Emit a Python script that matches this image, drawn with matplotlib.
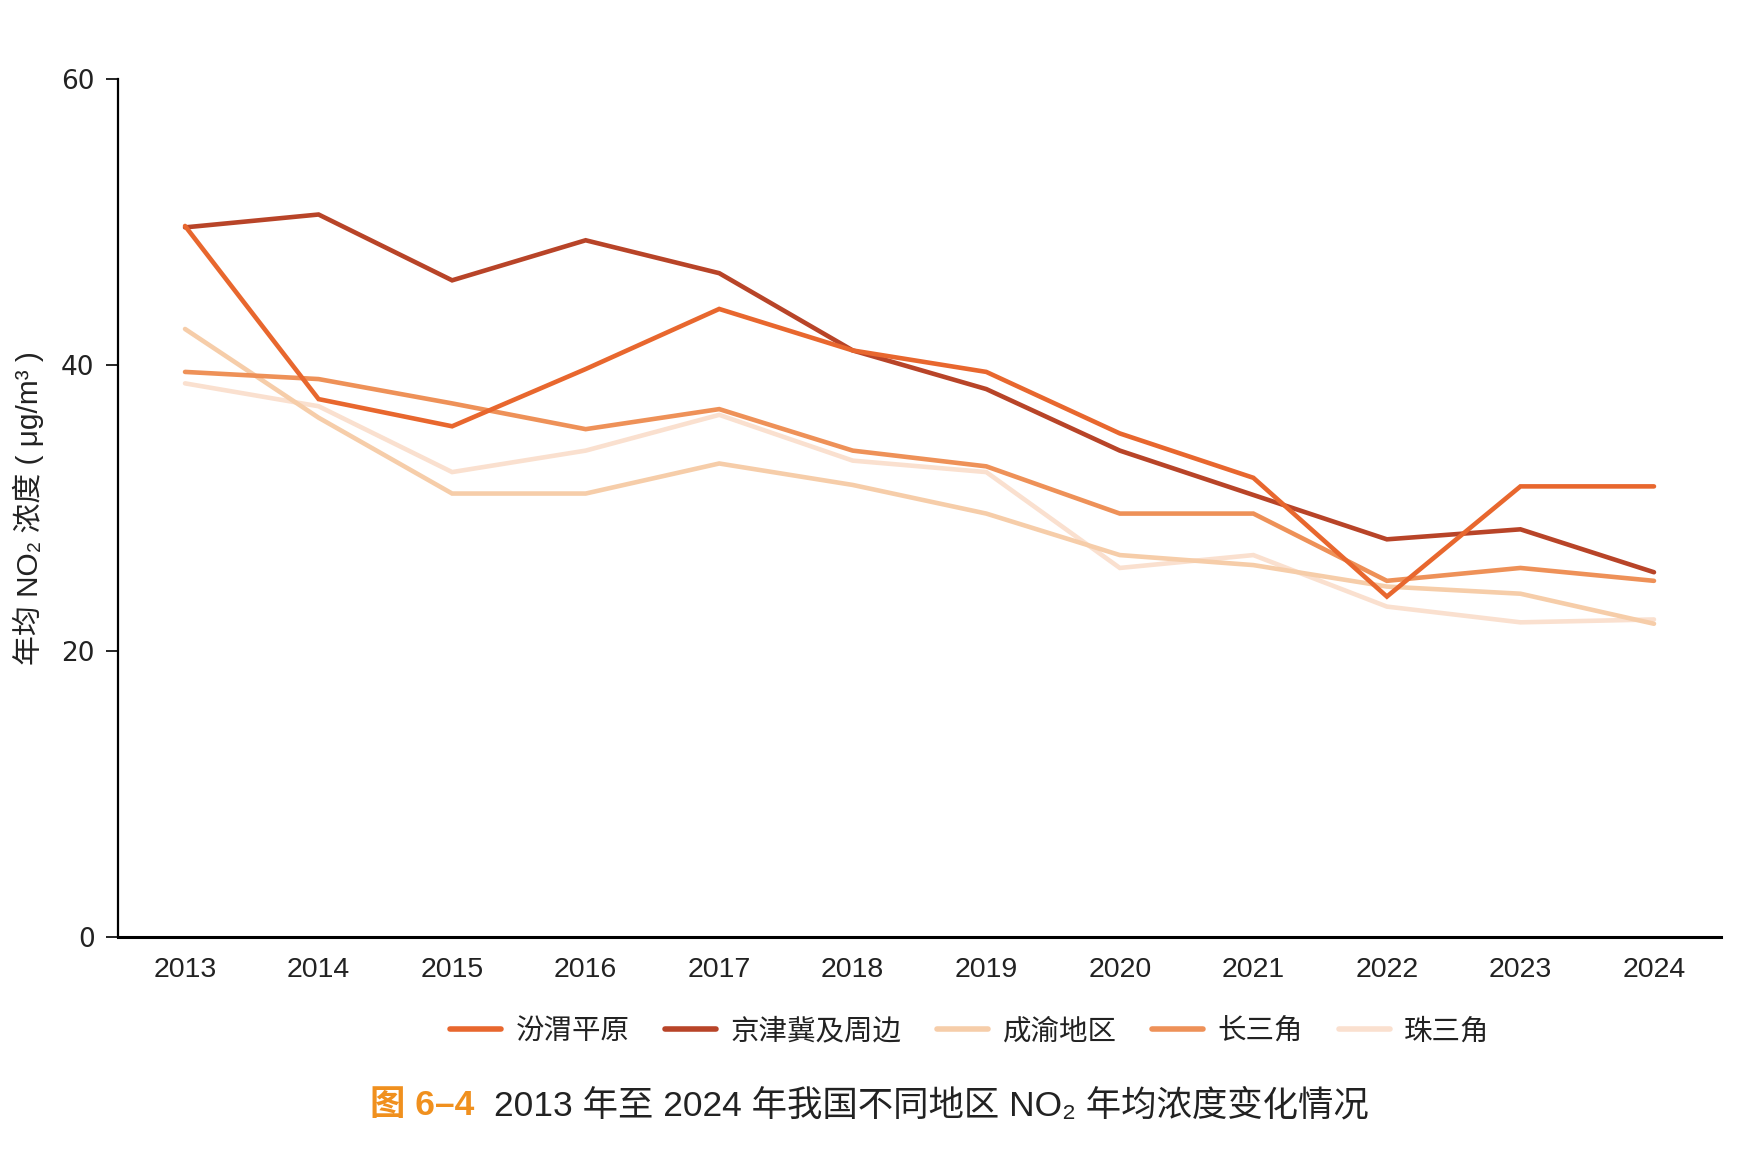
import matplotlib
matplotlib.use("Agg")
import matplotlib.pyplot as plt

plt.rcParams['font.family'] = ['Noto Sans CJK SC', 'DejaVu Sans']

# data (ug/m3)
years = [2013, 2014, 2015, 2016, 2017, 2018, 2019, 2020, 2021, 2022, 2023, 2024]
fenwei = [49.7, 37.6, 35.7, 39.7, 43.9, 41.0, 39.5, 35.2, 32.1, 23.8, 31.5, 31.5]
jingjinji = [49.6, 50.5, 45.9, 48.7, 46.4, 41.0, 38.3, 34.0, 30.9, 27.8, 28.5, 25.5]
chengyu = [42.5, 36.3, 31.0, 31.0, 33.1, 31.6, 29.6, 26.7, 26.0, 24.5, 24.0, 21.9]
changsanjiao = [39.5, 39.0, 37.3, 35.5, 36.9, 34.0, 32.9, 29.6, 29.6, 24.9, 25.8, 24.9]
zhusanjiao = [38.7, 37.1, 32.5, 34.0, 36.5, 33.3, 32.5, 25.8, 26.7, 23.1, 22.0, 22.2]

names = ['汾渭平原', '京津冀及周边', '成渝地区', '长三角', '珠三角']
colors = ['#E8672E', '#B84428', '#F6CDA9', '#EE9158', '#FAE0CF']
series = [fenwei, jingjinji, chengyu, changsanjiao, zhusanjiao]
yticks = [0, 20, 40, 60]

latin_cjk = ['Liberation Sans', 'Noto Sans CJK SC', 'DejaVu Sans']

fig = plt.figure(figsize=(17.6, 11.64), dpi=100)
ax = fig.add_axes([0.0672, 0.1949, 0.9105, 0.7376])

# pale ones first so the dark lines stay on top
order = [4, 2, 3, 1, 0]
lines = {}
for i in order:
    ln, = ax.plot(years, series[i], color=colors[i], lw=3.3,
                  solid_joinstyle='miter', solid_capstyle='round', label=names[i])
    lines[i] = ln

ax.set_xlim(2012.5, 2024.5)
ax.set_ylim(0, 60)
ax.set_xticks(years)
ax.set_xticklabels([str(y) for y in years], family='Liberation Sans', fontsize=20.5, color='#222222')
ax.set_yticks(yticks)
ax.set_yticklabels([str(v) for v in yticks], family='DejaVu Sans', fontsize=19, color='#222222')
ax.tick_params(axis='x', length=0, pad=14)
ax.tick_params(axis='y', length=9, width=1.2, direction='out', pad=8)
for s in ['top', 'right']:
    ax.spines[s].set_visible(False)
ax.spines['left'].set_linewidth(1.6)
ax.spines['bottom'].set_linewidth(2.2)

ax.set_ylabel('年均 NO₂ 浓度 ( μg/m³ )', family=latin_cjk, fontsize=21.5,
              color='#222222', labelpad=12)

leg = fig.legend([lines[i] for i in range(5)], names, loc='center',
                 bbox_to_anchor=(0.551, 0.114), ncol=5, frameon=False,
                 fontsize=20.5, handlelength=1.8, handletextpad=0.5,
                 columnspacing=1.25)
for t in leg.get_texts():
    t.set_color('#222222')
for h in leg.get_lines():
    h.set_linewidth(4)

t1 = fig.text(0.2105, 0.050, '图 6–4', family=latin_cjk, fontsize=25.5,
              fontweight='bold', color='#F0901E', ha='left', va='center')
ax.annotate('2013 年至 2024 年我国不同地区 NO₂ 年均浓度变化情况',
            xy=(1, 0.5), xycoords=t1, xytext=(14, 0), textcoords='offset points',
            family=latin_cjk, fontsize=25.5, color='#222222', ha='left', va='center',
            annotation_clip=False)

fig.savefig('out.png', dpi=100)
